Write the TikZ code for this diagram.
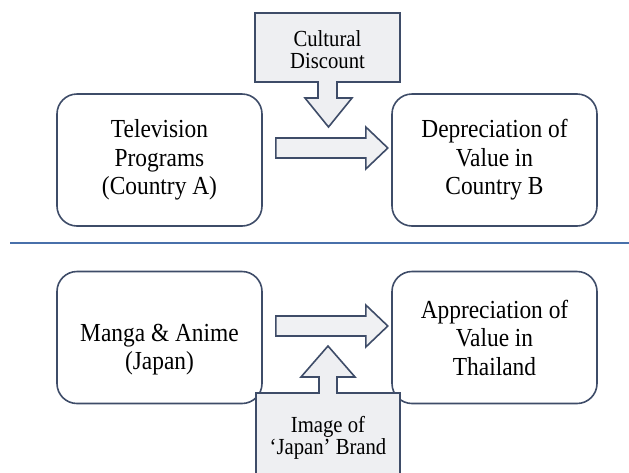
\documentclass[tikz,border=0pt]{standalone}
\usepackage{fontspec}
\setmainfont{Liberation Serif}
\newfontfamily\labelfont{Liberation Serif}[FakeStretch=0.9]
\definecolor{outline}{RGB}{62,76,104}
\definecolor{calloutfill}{RGB}{238,239,242}
\definecolor{arrowfill}{RGB}{240,241,243}
\definecolor{rulecolor}{RGB}{72,112,170}
\begin{document}
\begin{tikzpicture}[x=1pt,y=-1pt,
  stagebox/.style={draw=outline, line width=1.6pt, rounded corners=20pt, fill=white,
    minimum width=205pt, minimum height=132pt, align=center, inner sep=0pt,
    font=\labelfont\fontsize{26}{28.5}\selectfont},
  callouttext/.style={align=center, inner sep=0pt,
    font=\labelfont\fontsize{23}{22}\selectfont},
  calloutshape/.style={draw=outline, line width=1.6pt, fill=calloutfill, line join=miter},
  arrowbody/.style={draw=outline, line width=1.6pt, fill=arrowfill, line join=miter},
  pics/blockarrow/.style={code={
    \draw[arrowbody] (0,-10) -- (90,-10) -- (90,-21) -- (112,0) -- (90,21) -- (90,10) -- (0,10) -- cycle;}}
]
\useasboundingbox (0,0) rectangle (629,472);
\fill[white] (0,0) rectangle (629,472);

% stages
\node[stagebox] (tv)    at (159.5,160)   {Television\\Programs\\(Country~A)};
\node[stagebox] (dep)   at (494.5,160)   {Depreciation of\\Value in\\Country~B};
\node[stagebox] (manga) at (159.5,337.5) {\rule{0pt}{42pt}Manga \& Anime\\(Japan)};
\node[stagebox] (app)   at (494.5,337.5) {Appreciation of\\Value in\\Thailand};

% transfer arrows
\path (tv.east) ++(13,-12) pic {blockarrow};
\path (manga.east) ++(13,-11.5) pic {blockarrow};

% divider
\draw[rulecolor, line width=2.6pt] (10,243) -- (629,243);

% cultural discount callout (pointing down)
\draw[calloutshape] (255,13) -- (400,13) -- (400,82) -- (337,82) -- (337,98) -- (352,98)
  -- (328.5,127) -- (305,98) -- (318,98) -- (318,82) -- (255,82) -- cycle;
\node[callouttext] (discount) at (327.5,50) {Cultural\\Discount};

% brand image callout (pointing up)
\draw[calloutshape] (256,485) -- (256,393) -- (319,393) -- (319,377) -- (301,377)
  -- (328,346) -- (355,377) -- (337,377) -- (337,393) -- (400,393) -- (400,485);
\node[callouttext] (brand) at (328,438) {Image of\\‘Japan’ Brand};
\end{tikzpicture}
\end{document}
